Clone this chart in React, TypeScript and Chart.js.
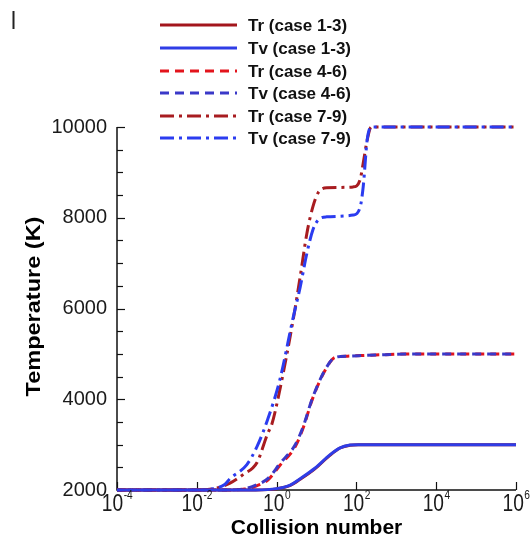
import { useEffect, useRef } from 'react';
import { Chart, registerables } from 'chart.js';

Chart.register(...registerables);

const FONT = '"Liberation Sans", Arial, Helvetica, sans-serif';

// Axis ticks
const xTickValues = [1e-4, 1e-2, 1, 1e2, 1e4, 1e6];
const xTickExponents = ['-4', '-2', '0', '2', '4', '6'];
const yMin = 2000;
const yMax = 10000;
const yMajorStep = 2000;
const yMinorStep = 500;

// Cases 1-3 (final temperature 3000 K)
const x13 = [1e-4, 0.3, 1, 2.2, 3.9, 9.1, 22, 39, 69, 112, 1e6];
const tr13 = [2000, 2000, 2025, 2100, 2235, 2465, 2770, 2925, 2988, 3000, 3000];
const tv13 = [2000, 2000, 2030, 2110, 2250, 2480, 2780, 2930, 2990, 3000, 3000];

// Cases 4-6 (final temperature 5000 K)
const x46 = [1e-4, 0.05, 0.16, 0.29, 0.62, 1.23, 2.9, 4.6, 8.1, 18, 29, 60, 300, 3000, 1e6];
const tr46 = [2000, 2000, 2020, 2080, 2230, 2550, 2950, 3360, 4030, 4700, 4920, 4950, 4975, 5000, 5000];
const tv46 = [2000, 2000, 2030, 2100, 2260, 2590, 2990, 3390, 4050, 4710, 4920, 4950, 4975, 5000, 5000];

// Cases 7-9 (final temperature 10000 K)
const xTr79 = [1e-4, 0.01, 0.03, 0.068, 0.15, 0.32, 0.6, 0.76, 1.2, 2.6, 3.9, 5.75, 8.1, 11, 18, 83, 123, 148, 186, 235, 1e6];
const tr79 = [2000, 2000, 2040, 2150, 2350, 2600, 3250, 3450, 4200, 5750, 6700, 7660, 8240, 8550, 8660, 8680, 8830, 9200, 9710, 10000, 10000];
const xTv79 = [1e-4, 0.01, 0.025, 0.05, 0.068, 0.18, 0.32, 0.6, 1.2, 2.6, 3.9, 5.75, 8.1, 11, 18, 83, 123, 148, 186, 235, 1e6];
const tv79 = [2000, 2000, 2030, 2120, 2250, 2560, 2950, 3560, 4420, 5800, 6470, 7220, 7730, 7950, 8020, 8060, 8220, 8680, 9710, 10000, 10000];

const DASHED = [9, 6];
const DASH_DOT = [14, 5, 3, 5];

type Series = {
  label: string;
  xs: number[];
  ys: number[];
  color: string;
  dash: number[];
  dashOffset: number;
  order: number;
};

const seriesList: Series[] = [
  { label: 'Tr (case 1-3)', xs: x13, ys: tr13, color: '#a3161c', dash: [], dashOffset: 0, order: 1 },
  { label: 'Tv (case 1-3)', xs: x13, ys: tv13, color: '#2f3de6', dash: [], dashOffset: 0, order: 0 },
  { label: 'Tr (case 4-6)', xs: x46, ys: tr46, color: '#e3141c', dash: DASHED, dashOffset: 0, order: 3 },
  { label: 'Tv (case 4-6)', xs: x46, ys: tv46, color: '#3a38c8', dash: DASHED, dashOffset: 4, order: 2 },
  { label: 'Tr (case 7-9)', xs: xTr79, ys: tr79, color: '#a81c20', dash: DASH_DOT, dashOffset: 0, order: 5 },
  { label: 'Tv (case 7-9)', xs: xTv79, ys: tv79, color: '#2b3cf0', dash: DASH_DOT, dashOffset: 6, order: 4 },
];

const LINE_WIDTH = 3;

const decorations = {
  id: 'decorations',
  beforeDatasetsDraw(chart: any) {
    const { ctx, chartArea: a, scales } = chart;
    const x = scales.x;
    const y = scales.y;
    ctx.save();
    ctx.strokeStyle = '#111';
    ctx.lineWidth = 1.5;
    ctx.beginPath();
    ctx.moveTo(a.left, a.top);
    ctx.lineTo(a.left, a.bottom);
    ctx.lineTo(a.right, a.bottom);
    ctx.stroke();

    // inward ticks on the temperature axis
    ctx.lineWidth = 1.2;
    for (let v = yMin; v <= yMax; v += yMinorStep) {
      const py = Math.round(y.getPixelForValue(v)) + 0.5;
      const len = v % yMajorStep === 0 ? 8 : 6;
      ctx.beginPath();
      ctx.moveTo(a.left, py);
      ctx.lineTo(a.left + len, py);
      ctx.stroke();
    }
    // inward ticks on the collision axis
    xTickValues.forEach((v) => {
      const px = Math.round(x.getPixelForValue(v)) + 0.5;
      ctx.beginPath();
      ctx.moveTo(px, a.bottom);
      ctx.lineTo(px, a.bottom - 8);
      ctx.stroke();
    });
    ctx.restore();
  },
  afterDraw(chart: any) {
    const { ctx, chartArea: a, scales } = chart;
    const x = scales.x;
    ctx.save();
    ctx.fillStyle = '#1a1a1a';

    // powers of ten under the collision axis
    xTickValues.forEach((v, i) => {
      const px = x.getPixelForValue(v);
      ctx.font = `24px ${FONT}`;
      const baseW = ctx.measureText('10').width * 0.8;
      ctx.font = `12px ${FONT}`;
      const expW = ctx.measureText(xTickExponents[i]).width * 0.85;
      const left = px - (baseW + expW) / 2;
      ctx.textAlign = 'left';
      ctx.textBaseline = 'alphabetic';
      ctx.save();
      ctx.translate(left, a.bottom + 21);
      ctx.scale(0.8, 1);
      ctx.font = `24px ${FONT}`;
      ctx.fillText('10', 0, 0);
      ctx.restore();
      ctx.save();
      ctx.translate(left + baseW + 0.5, a.bottom + 9);
      ctx.scale(0.85, 1);
      ctx.font = `12px ${FONT}`;
      ctx.fillText(xTickExponents[i], 0, 0);
      ctx.restore();
    });

    // axis titles
    ctx.fillStyle = '#000';
    ctx.font = `bold 21px ${FONT}`;
    ctx.textAlign = 'center';
    ctx.textBaseline = 'middle';
    ctx.fillText('Collision number', (a.left + a.right) / 2, 528);

    ctx.save();
    ctx.translate(34, (a.top + a.bottom) / 2 - 2);
    ctx.rotate(-Math.PI / 2);
    ctx.scale(1.12, 1);
    ctx.fillText('Temperature (K)', 0, 0);
    ctx.restore();

    // legend
    const rowsY = [25, 48, 71, 93, 116, 138];
    chart.data.datasets.forEach((ds: any, i: number) => {
      const ly = rowsY[i];
      ctx.save();
      ctx.strokeStyle = ds.borderColor;
      ctx.lineWidth = LINE_WIDTH;
      ctx.setLineDash(ds.borderDash || []);
      ctx.beginPath();
      ctx.moveTo(160, ly);
      ctx.lineTo(237, ly);
      ctx.stroke();
      ctx.restore();
      ctx.fillStyle = '#111';
      ctx.font = `bold 17px ${FONT}`;
      ctx.textAlign = 'left';
      ctx.textBaseline = 'middle';
      ctx.fillText(ds.label, 248, ly + 1);
    });

    // small mark in the top-left corner
    ctx.fillStyle = '#222';
    ctx.fillRect(12.5, 11, 2, 18);
    ctx.restore();
  },
};

export default function App() {
  const canvasRef = useRef<HTMLCanvasElement | null>(null);

  useEffect(() => {
    if (!canvasRef.current) return;
    const chart = new Chart(canvasRef.current, {
      type: 'line',
      data: {
        datasets: seriesList.map((s) => ({
          label: s.label,
          data: s.xs.map((xv, i) => ({ x: xv, y: s.ys[i] })),
          borderColor: s.color,
          backgroundColor: s.color,
          borderWidth: LINE_WIDTH,
          borderDash: s.dash,
          borderDashOffset: s.dashOffset,
          pointRadius: 0,
          fill: false,
          cubicInterpolationMode: 'monotone' as const,
          order: s.order,
          clip: false as any,
        })),
      },
      options: {
        responsive: false,
        animation: false,
        layout: { padding: { top: 127, right: 15, left: 0, bottom: 0 } },
        plugins: {
          legend: { display: false },
          tooltip: { enabled: false },
        },
        scales: {
          x: {
            type: 'logarithmic',
            min: 1e-4,
            max: 1e6,
            ticks: { display: false },
            grid: { display: false, drawTicks: false },
            border: { display: false },
            afterFit: (scale: any) => {
              scale.height = 50;
            },
          },
          y: {
            type: 'linear',
            min: yMin,
            max: yMax,
            ticks: {
              stepSize: yMajorStep,
              padding: 10,
              color: '#1a1a1a',
              font: { family: FONT, size: 20 },
              callback: (value: any) => String(value),
            },
            grid: { display: false, drawTicks: false },
            border: { display: false },
            afterFit: (scale: any) => {
              scale.width = 117;
            },
          },
        },
      },
      plugins: [decorations],
    });
    return () => chart.destroy();
  }, []);

  return (
    <div style={{ position: 'fixed', left: 0, top: 0, width: 531, height: 540, background: '#fff' }}>
      <canvas ref={canvasRef} width={531} height={540} style={{ display: 'block' }} />
    </div>
  );
}
